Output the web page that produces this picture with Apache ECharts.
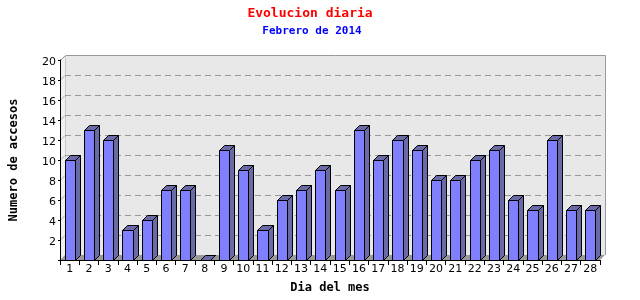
<!DOCTYPE html>
<html><head><meta charset="utf-8">
<script src="https://cdn.jsdelivr.net/npm/echarts@6/dist/echarts.min.js"></script>
<style>html,body{margin:0;padding:0;background:#fff}#c{width:640px;height:300px}</style>
</head><body><div id="c"></div>
<script>
const days = ['1','2','3','4','5','6','7','8','9','10','11','12','13','14','15','16','17','18','19','20','21','22','23','24','25','26','27','28'];
const accesos = [10,13,12,3,4,7,7,0,11,9,3,6,7,9,7,13,10,12,11,8,8,10,11,6,5,12,5,5];
const yTicks = [2,4,6,8,10,12,14,16,18,20];
const titleText = 'Evolucion diaria';
const subtitleText = 'Febrero de 2014';

const DX = 5, DY = -5;
const chart = echarts.init(document.getElementById('c'));

function wallItem(params, api) {
  const cs = params.coordSys;
  const xL = cs.x, xR = cs.x + cs.width, yB = cs.y + cs.height, yT = cs.y;
  const children = [];
  children.push({type:'polygon', shape:{points:[[xL+DX,yT+DY],[xR+DX,yT+DY],[xR+DX,yB+DY],[xL+DX,yB+DY]]},
    style:{fill:'#e8e8e8', stroke:null}});
  children.push({type:'polygon', shape:{points:[[xL,yT],[xL+DX,yT+DY],[xL+DX,yB+DY],[xL,yB]]},
    style:{fill:'#f0f0f0', stroke:null}});
  children.push({type:'polyline', shape:{points:[[xL+0.5,yT+0.5],[xL+DX+0.5,yT+DY+0.5],[xR+DX+0.5,yT+DY+0.5],[xR+DX+0.5,yB+DY]]},
    style:{stroke:'#999999', lineWidth:1, fill:null}});
  children.push({type:'line', shape:{x1:xL+DX+0.5,y1:yT+DY,x2:xL+DX+0.5,y2:yB+DY}, style:{stroke:'#c8c8c8', lineWidth:1}});
  yTicks.forEach(v => {
    if (v === 20) return;
    const y = api.coord([0, v])[1];
    children.push({type:'line', shape:{x1:xL+DX,y1:Math.round(y+DY)+0.5,x2:xR+DX,y2:Math.round(y+DY)+0.5},
      style:{stroke:'#999999', lineWidth:1, lineDash:[6,4]}});
    children.push({type:'line', shape:{x1:xL,y1:Math.round(y)+0.5,x2:xL+DX,y2:Math.round(y+DY)+0.5},
      style:{stroke:'#aaaaaa', lineWidth:1}});
  });
  children.push({type:'polygon', shape:{points:[[xL,yB],[xL+DX,yB+DY],[xR+DX,yB+DY],[xR,yB]]},
    style:{fill:'#999999', stroke:null}});
  return {type:'group', children};
}

function barItem(params, api) {
  const idx = api.value(0);
  const val = api.value(1);
  const top = api.coord([idx, val]);
  const base = api.coord([idx, 0]);
  const bw = api.size([1, 0])[0] * 0.52;
  const x0 = Math.round(top[0] - bw / 2) + 0.5;
  const x1 = Math.round(top[0] + bw / 2) + 0.5;
  const yT = Math.round(top[1]) + 0.5;
  const yB = Math.round(base[1]) + 0.5;
  const st = {stroke:'#000000', lineWidth:1};
  return {type:'group', children:[
    {type:'polygon', shape:{points:[[x1,yT],[x1+DX,yT+DY],[x1+DX,yB+DY],[x1,yB]]}, style:Object.assign({fill:'#6a6aa6'}, st)},
    {type:'polygon', shape:{points:[[x0,yT],[x0+DX,yT+DY],[x1+DX,yT+DY],[x1,yT]]}, style:Object.assign({fill:'#6a6aa6'}, st)},
    {type:'rect', shape:{x:x0, y:yT, width:x1-x0, height:yB-yT}, style:Object.assign({fill:'#8080ff'}, st)}
  ]};
}

chart.setOption({
  animation:false,
  grid:{left:60, right:40, top:60, bottom:40, containLabel:false, outerBoundsMode:'none'},
  graphic:[
    {type:'text', x:310, y:14, style:{text:titleText, fill:'#ff0000', font:'bold 13px "DejaVu Sans Mono"', textAlign:'center', textVerticalAlign:'middle'}},
    {type:'text', x:312, y:31, style:{text:subtitleText, fill:'#0000ff', font:'bold 11px "DejaVu Sans Mono"', textAlign:'center', textVerticalAlign:'middle'}}
  ],
  xAxis:{type:'category', data:days, boundaryGap:true,
    name:'Dia del mes', nameLocation:'middle', nameGap:22,
    nameTextStyle:{fontFamily:'DejaVu Sans Mono', fontWeight:'bold', fontSize:12, color:'#000'},
    axisLine:{show:true, lineStyle:{color:'#000', width:1}},
    axisTick:{show:true, alignWithLabel:false, length:5, lineStyle:{color:'#000'}},
    axisLabel:{fontFamily:'DejaVu Sans', fontSize:11, color:'#000', margin:4, interval:0},
    splitLine:{show:false}, z:5},
  yAxis:{type:'value', min:0, max:20, interval:2,
    name:'Numero de accesos', nameLocation:'middle', nameGap:40,
    nameTextStyle:{fontFamily:'DejaVu Sans Mono', fontWeight:'bold', fontSize:12, color:'#000'},
    axisLine:{show:true, lineStyle:{color:'#000', width:1}},
    axisTick:{show:true, length:2, lineStyle:{color:'#000'}},
    axisLabel:{fontFamily:'DejaVu Sans', fontSize:11, color:'#000', margin:4,
      formatter:v => v === 0 ? '' : '{a|' + v + '}',
      rich:{a:{fontFamily:'DejaVu Sans', fontSize:11, color:'#000', padding:[5,0,0,0]}}},
    splitLine:{show:false}, z:5},
  series:[
    {type:'custom', renderItem:wallItem, data:[[0,0]], z:1, silent:true, clip:false},
    {type:'custom', renderItem:barItem, data:accesos.map((v,i)=>[i,v]), z:3, clip:false,
      encode:{x:0, y:1}}
  ]
});
</script></body></html>
